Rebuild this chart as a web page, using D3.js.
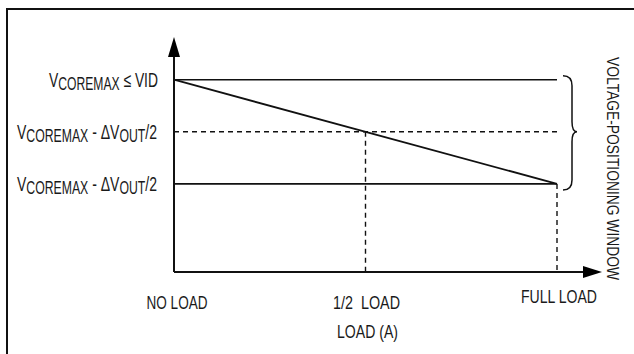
<!DOCTYPE html>
<html>
<head>
<meta charset="utf-8">
<script src="https://cdn.jsdelivr.net/npm/d3@7"></script>
<style>
    body { margin: 0; background: #fff; }
    svg text { font-family: "Liberation Sans", Arial, sans-serif; fill: #1a1a1a; }
</style>
</head>
<body>
<svg id="chart" width="634" height="354"></svg>
<script>
'use strict';

// load points along the x axis (fraction of full load)
var loadValues = [0, 0.5, 1];
var loadLabels = ["NO LOAD", "1/2  LOAD", "FULL LOAD"];

// output voltage levels (relative, 1 = VCOREMAX)
var voltageLevels = [1, 0.5, 0];
var voltageLabels = [
    [["V", 0], ["COREMAX", 1], [" \u2264 VID", 0]],
    [["V", 0], ["COREMAX", 1], [" - \u0394V", 0], ["OUT", 1], ["/2", 0]],
    [["V", 0], ["COREMAX", 1], [" - \u0394V", 0], ["OUT", 1], ["/2", 0]]
];

// load line: voltage droops from no load to full load
var loadLine = [
    {load: 0, v: 1},
    {load: 1, v: 0}
];

var xTitle = "LOAD (A)";
var windowTitle = "VOLTAGE-POSITIONING WINDOW";

var svg = d3.select("#chart");

// frame
svg.append("rect")
    .attr("x", 7)
    .attr("y", 9)
    .attr("width", 640)
    .attr("height", 360)
    .attr("fill", "none")
    .attr("stroke", "#111")
    .attr("stroke-width", 2);

var x = d3.scaleLinear()
    .domain([0, 1])
    .range([174, 557]);

var y = d3.scaleLinear()
    .domain([-0.846, 1.41])
    .range([272, 37]);

var x0 = x(0), xEnd = 602;
var y0 = y(-0.846), yTop = y(1.41);

// axes
svg.append("line")
    .attr("x1", x0).attr("y1", y0)
    .attr("x2", xEnd - 18).attr("y2", y0)
    .attr("stroke", "#111").attr("stroke-width", 2);

svg.append("line")
    .attr("x1", x0).attr("y1", y0)
    .attr("x2", x0).attr("y2", yTop + 18)
    .attr("stroke", "#111").attr("stroke-width", 2);

svg.append("path")
    .attr("d", "M" + xEnd + "," + y0 + "L" + (xEnd - 19) + "," + (y0 - 6) + "L" + (xEnd - 19) + "," + (y0 + 6) + "Z")
    .attr("fill", "#000");

svg.append("path")
    .attr("d", "M" + x0 + "," + yTop + "L" + (x0 - 6) + "," + (yTop + 20) + "L" + (x0 + 6) + "," + (yTop + 20) + "Z")
    .attr("fill", "#000");

// voltage level lines: solid for the window limits, dashed for the middle
svg.selectAll(".level")
    .data(voltageLevels)
    .enter()
    .append("line")
    .attr("class", "level")
    .attr("x1", x0)
    .attr("x2", x(1))
    .attr("y1", function(d) { return y(d); })
    .attr("y2", function(d) { return y(d); })
    .attr("stroke", "#111")
    .attr("stroke-width", 1.6)
    .attr("stroke-dasharray", function(d, i) { return i === 1 ? "5,4" : null; });

// vertical dashed drops at 1/2 and full load
var drops = [
    {load: loadValues[1], v: voltageLevels[1]},
    {load: loadValues[2], v: voltageLevels[2]}
];

svg.selectAll(".drop")
    .data(drops)
    .enter()
    .append("line")
    .attr("class", "drop")
    .attr("x1", function(d) { return x(d.load); })
    .attr("x2", function(d) { return x(d.load); })
    .attr("y1", function(d) { return y(d.v); })
    .attr("y2", y0)
    .attr("stroke", "#111")
    .attr("stroke-width", 1.4)
    .attr("stroke-dasharray", "5,4");

var line = d3.line()
    .x(function(d) { return x(d.load); })
    .y(function(d) { return y(d.v); });

svg.append("path")
    .datum(loadLine)
    .attr("d", line)
    .attr("fill", "none")
    .attr("stroke", "#111")
    .attr("stroke-width", 1.8);

// voltage labels with lowered subscripts
var labelWidths = [109, 140, 140];
var labelLeft = [49, 17, 17];

voltageLevels.forEach(function(v, i) {
    var t = svg.append("text")
        .attr("x", labelLeft[i])
        .attr("y", y(v) + 7)
        .attr("font-size", 20)
        .attr("textLength", labelWidths[i])
        .attr("lengthAdjust", "spacingAndGlyphs");
    var shifted = 0;
    voltageLabels[i].forEach(function(part) {
        var dy = part[1] ? 3 - shifted : -shifted;
        shifted = part[1] ? 3 : 0;
        t.append("tspan")
            .attr("dy", dy)
            .attr("font-size", part[1] ? 17.5 : 20)
            .text(part[0]);
    });
});

// load labels
var loadLabelY = [309, 309, 303];
var loadLabelW = [61, 67, 76];

svg.selectAll(".loadLabel")
    .data(loadLabels)
    .enter()
    .append("text")
    .attr("class", "loadLabel")
    .attr("x", function(d, i) { return x(loadValues[i]) + [3, 1, 2][i] - loadLabelW[i] / 2; })
    .attr("y", function(d, i) { return loadLabelY[i]; })
    .attr("font-size", 19)
    .attr("textLength", function(d, i) { return loadLabelW[i]; })
    .attr("lengthAdjust", "spacingAndGlyphs")
    .style("white-space", "pre")
    .text(function(d) { return d; });

svg.append("text")
    .attr("x", 337)
    .attr("y", 338)
    .attr("font-size", 19)
    .attr("textLength", 61)
    .attr("lengthAdjust", "spacingAndGlyphs")
    .text(xTitle);

// brace marking the voltage-positioning window
var bTop = y(voltageLevels[0]) - 4,
    bBot = y(voltageLevels[2]) + 6,
    bMid = y(voltageLevels[1]),
    bx = x(1) + 6;

var brace = d3.path();
brace.moveTo(bx, bTop);
brace.quadraticCurveTo(bx + 9, bTop, bx + 9, bTop + 10);
brace.lineTo(bx + 9, bMid - 10);
brace.quadraticCurveTo(bx + 9, bMid, bx + 14, bMid);
brace.quadraticCurveTo(bx + 9, bMid, bx + 9, bMid + 10);
brace.lineTo(bx + 9, bBot - 10);
brace.quadraticCurveTo(bx + 9, bBot, bx, bBot);

svg.append("path")
    .attr("d", brace.toString())
    .attr("fill", "none")
    .attr("stroke", "#111")
    .attr("stroke-width", 1.5);

svg.append("text")
    .attr("transform", "translate(607,57) rotate(90)")
    .attr("font-size", 17)
    .attr("textLength", 223)
    .attr("lengthAdjust", "spacingAndGlyphs")
    .text(windowTitle);
</script>
</body>
</html>
